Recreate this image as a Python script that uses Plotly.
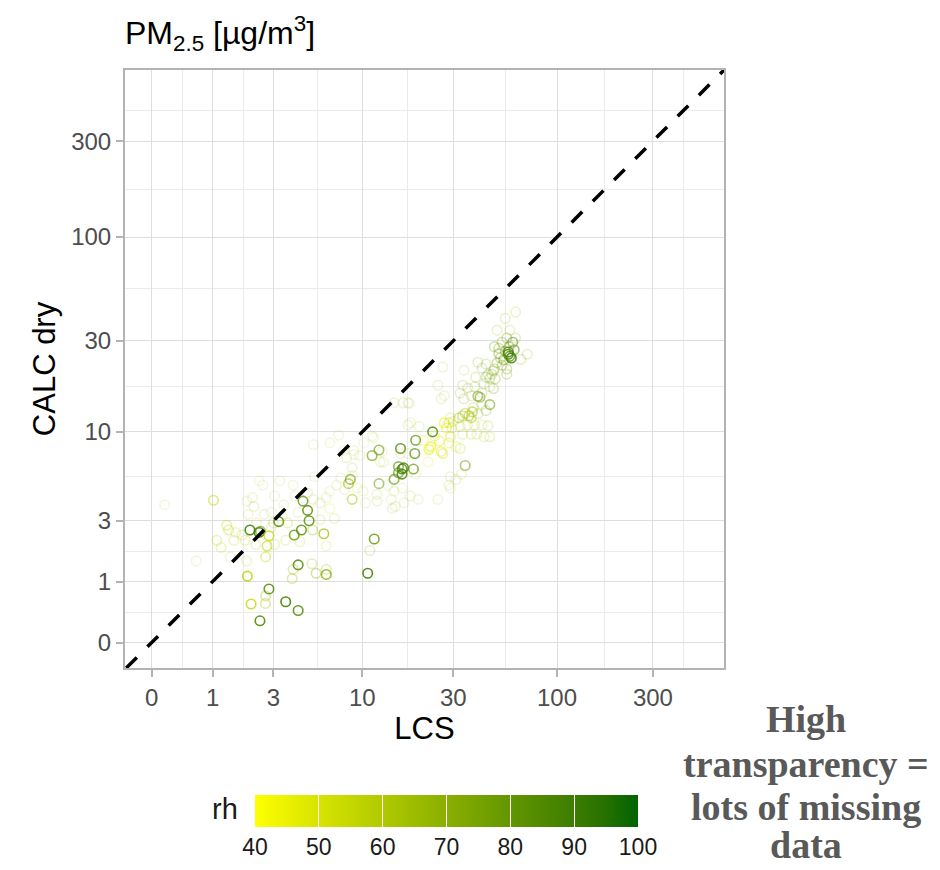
import numpy as np
import plotly.graph_objects as go

# ---------------- data ----------------
tick_values = [0, 1, 3, 10, 30, 100, 300]
tick_labels = ["0", "1", "3", "10", "30", "100", "300"]
rh_ticks = [40, 50, 60, 70, 80, 90, 100]

# LCS (x), CALC dry (y), relative humidity, data coverage (0..1 -> opacity)
lcs = [0.16, 0.66, 1.02, 1.35, 1.4, 1.1, 1.2, 1.55, 1.9, 1.45, 1.95, 2.15, 2.4, 2.55, 2.06, 2.4, 2.45,
       2.8, 2.72, 2.66, 2.27, 1.95, 1.97, 2.1, 2.43, 2.66, 2.65, 2.8, 3.6, 4.3, 4.3, 4.0, 3.95, 5.2,
       5.5, 6.3, 6.3, 10.7, 11.6, 11.0, 3.25, 3.0, 4.07, 4.5, 5.0, 4.9, 4.6, 5.25, 6.1, 3.6, 4.4,
       3.05, 6.3, 3.7, 3.05, 3.3, 4.0, 4.1, 5.3, 5.4, 4.9, 5.3, 5.8, 6.3, 6.6, 7.0, 5.8, 6.6, 7.2,
       7.6, 8.0, 8.8, 8.4, 8.6, 8.8, 9.4, 8.2, 8.8, 7.9, 9.0, 10.1, 10.4, 12.0, 12.3, 12.3, 11.3,
       11.5, 9.7, 9.0, 12.5, 14.8, 15.6, 15.6, 14.5, 15.0, 14.8, 12.0, 11.3, 10.2,
       1.6, 1.8, 2.2, 2.6, 2.0, 2.3, 2.9, 3.5, 3.4, 4.3, 2.9,
       16.3, 16.6, 16.3, 16.0, 18.7, 19.0, 17.5, 16.0, 12.8, 13.0, 14.8, 16.5, 17.5, 17.5, 18.0,
       16.3, 14.8, 19.2, 13.7, 14.3, 16.7, 19.8, 19.2, 23.5, 23.0, 22.5, 26.0, 26.5, 22.3, 21.0,
       20.0, 18.0, 25.0, 26.5, 26.0, 27.0, 34.5, 33.0, 29.0, 31.0, 28.5, 29.0, 25.0, 27.0, 27.7,
       28.5, 29.5, 29.0, 28.5, 31.0, 32.5, 33.5, 37.0, 39.5, 43.0, 46.0, 29.0, 30.0, 32.5, 35.5,
       38.5, 42.0, 45.0, 36.0, 37.5, 34.5, 33.5, 32.0, 37.0, 46.0, 40.0, 41.0, 34.0, 46.0, 42.0,
       38.5, 35.5, 33.5, 32.5, 34.0, 37.0, 42.0, 56.0, 49.0, 44.0, 40.0, 42.0, 45.0, 48.0, 62.0,
       50.0, 55.0, 58.0, 62.0, 60.0, 57.0, 59.0, 57.0, 58.0, 56.0, 53.0, 51.0, 48.5, 71.0, 66.0,
       52.0, 50.0, 53.0, 56.0, 48.5, 47.0, 46.0, 44.0, 55.0, 54.0, 51.0, 57.5, 61.0, 38.0, 40.0,
       44.0, 48.0, 43.0, 39.0, 24.0, 25.5, 6.6, 7.4, 17.8]
calc = [3.8, 1.53, 4.05, 2.8, 2.6, 2.2, 1.95, 2.2, 2.2, 1.65, 4.0, 4.2, 5.3, 5.0, 2.6, 2.5, 2.55,
        2.37, 2.0, 1.65, 2.05, 1.53, 1.13, 0.55, 0.28, 0.7, 0.56, 0.84, 0.59, 0.44, 1.42, 1.3, 1.07, 1.45,
        1.2, 1.17, 1.3, 1.2, 2.25, 1.85, 2.96, 2.9, 2.4, 2.6, 3.0, 3.5, 4.0, 2.6, 2.45, 2.2, 2.15,
        2.05, 2.0, 2.9, 4.3, 5.3, 5.0, 4.3, 8.5, 5.6, 4.5, 4.1, 3.9, 4.2, 3.6, 3.1, 3.05, 4.6, 5.0,
        5.5, 4.7, 5.7, 5.1, 5.4, 4.1, 4.8, 7.2, 6.3, 7.9, 7.9, 4.6, 3.9, 4.0, 5.1, 7.95, 7.4,
        9.3, 7.4, 7.5, 6.8, 5.4, 5.9, 6.4, 3.6, 3.7, 4.6, 4.4, 9.5, 8.7,
        2.5, 2.4, 3.7, 3.3, 3.3, 2.9, 3.4, 3.8, 3.2, 3.4, 2.7,
        6.2, 6.3, 5.8, 8.1, 6.2, 7.6, 7.6, 7.6, 7.8, 6.8, 14.3, 14.3, 14.3, 10.9, 4.3,
        4.8, 5.5, 5.8, 5.0, 4.1, 3.9, 4.1, 9.0, 10.0, 8.3, 8.0, 7.8, 7.6, 6.8, 9.0,
        10.7, 11.2, 17.7, 22.0, 15.0, 15.6, 6.5, 5.8, 5.6, 5.4, 5.0, 4.8, 4.1, 11.2, 10.5,
        11.2, 10.5, 9.4, 8.7, 8.3, 8.1, 9.7, 9.7, 9.7, 9.4, 9.4, 11.9, 11.4, 10.7, 10.9,
        10.9, 10.9, 10.8, 12.2, 12.8, 12.6, 12.2, 11.9, 11.9, 14.0, 15.5, 15.3, 21.2, 17.4, 16.1,
        17.4, 17.1, 17.7, 16.1, 15.0, 15.6, 14.0, 20.2, 19.1, 19.5, 23.3, 21.7, 20.2, 21.0, 42.0,
        34.0, 39.0, 34.0, 31.0, 29.5, 26.3, 24.5, 25.6, 25.0, 31.0, 29.5, 27.5, 28.0, 25.6, 24.1,
        24.5, 23.1, 22.5, 21.5, 21.5, 20.2, 19.2, 22.8, 26.5, 24.0, 25.8, 28.0, 27.0, 13.5, 12.5,
        13.0, 17.0, 18.0, 19.5, 9.5, 8.9, 8.7, 9.6, 14.2]
rh = [60, 60, 55, 55, 55, 55, 55, 55, 55, 60, 60, 60, 60, 65, 90, 90, 85,
      55, 55, 55, 60, 60, 58, 55, 85, 65, 65, 85, 88, 85, 85, 65, 65, 65,
      70, 72, 65, 88, 80, 70, 85, 70, 80, 85, 85, 85, 85, 65, 65, 60, 60,
      60, 60, 55, 65, 60, 65, 65, 65, 65, 65, 65, 65, 60, 50, 65, 65, 65, 65,
      65, 65, 65, 65, 80, 62, 50, 65, 65, 65, 65, 65, 65, 65, 80, 80, 80,
      65, 65, 65, 65, 85, 85, 85, 65, 65, 65, 65, 65, 65,
      60, 60, 65, 65, 60, 60, 65, 65, 65, 65, 60,
      88, 88, 88, 85, 80, 85, 65, 65, 60, 60, 65, 65, 65, 65, 65,
      65, 65, 65, 65, 65, 65, 65, 85, 88, 45, 45, 50, 50, 50, 50,
      60, 60, 65, 65, 65, 65, 80, 65, 65, 65, 60, 60, 60, 45, 45,
      50, 55, 55, 50, 50, 55, 60, 60, 60, 60, 60, 60, 60, 60, 60,
      60, 60, 65, 62, 62, 62, 62, 62, 62, 80, 80, 80, 70, 70, 70,
      70, 70, 70, 70, 70, 70, 70, 75, 75, 75, 75, 75, 75, 75, 65,
      65, 65, 65, 70, 85, 90, 90, 90, 88, 75, 75, 75, 75, 70, 70,
      75, 75, 75, 75, 75, 75, 75, 75, 80, 80, 80, 80, 85, 70, 70,
      75, 75, 75, 70, 50, 45, 65, 65, 65]
coverage = [0.15, 0.15, 0.5, 0.35, 0.35, 0.3, 0.25, 0.25, 0.25, 0.15, 0.15, 0.15, 0.12, 0.12, 0.9, 0.9, 0.6,
            0.7, 0.6, 0.4, 0.2, 0.2, 0.8, 0.8, 0.9, 0.35, 0.35, 0.85, 0.9, 0.85, 0.85, 0.3, 0.3, 0.25,
            0.35, 0.8, 0.25, 0.9, 0.8, 0.2, 0.85, 0.2, 0.8, 0.8, 0.8, 0.8, 0.7, 0.35, 0.7, 0.2, 0.2,
            0.2, 0.15, 0.3, 0.12, 0.15, 0.12, 0.12, 0.12, 0.12, 0.15, 0.15, 0.15, 0.15, 0.2, 0.15, 0.15, 0.12, 0.12,
            0.12, 0.12, 0.12, 0.6, 0.6, 0.5, 0.2, 0.15, 0.15, 0.12, 0.12, 0.12, 0.12, 0.15, 0.5, 0.6, 0.6,
            0.12, 0.12, 0.12, 0.15, 0.6, 0.6, 0.6, 0.15, 0.15, 0.15, 0.15, 0.12, 0.12,
            0.2, 0.2, 0.15, 0.15, 0.15, 0.2, 0.12, 0.12, 0.12, 0.12, 0.2,
            0.8, 0.8, 0.8, 0.8, 0.7, 0.7, 0.15, 0.15, 0.15, 0.15, 0.15, 0.15, 0.15, 0.15, 0.15,
            0.12, 0.12, 0.12, 0.12, 0.12, 0.12, 0.12, 0.7, 0.8, 0.6, 0.6, 0.4, 0.4, 0.2, 0.25,
            0.15, 0.15, 0.15, 0.15, 0.15, 0.15, 0.5, 0.15, 0.15, 0.15, 0.15, 0.15, 0.15, 0.5, 0.5,
            0.4, 0.3, 0.3, 0.3, 0.25, 0.25, 0.2, 0.2, 0.2, 0.2, 0.2, 0.2, 0.2, 0.2, 0.2,
            0.2, 0.2, 0.2, 0.5, 0.5, 0.4, 0.4, 0.4, 0.4, 0.5, 0.5, 0.45, 0.15, 0.2, 0.2,
            0.2, 0.2, 0.2, 0.2, 0.2, 0.2, 0.2, 0.25, 0.25, 0.25, 0.2, 0.2, 0.2, 0.25, 0.2,
            0.2, 0.2, 0.2, 0.2, 0.5, 0.8, 0.85, 0.8, 0.7, 0.3, 0.3, 0.3, 0.3, 0.2, 0.2,
            0.3, 0.3, 0.3, 0.3, 0.25, 0.25, 0.25, 0.2, 0.4, 0.4, 0.35, 0.4, 0.5, 0.2, 0.2,
            0.25, 0.25, 0.2, 0.2, 0.3, 0.4, 0.12, 0.12, 0.12]


# ---------------- helpers ----------------
def tr(v):
    """log10(x + 1) axis transform"""
    return np.log10(np.asarray(v, dtype=float) + 1.0)


_M = np.array([[0.4124, 0.3576, 0.1805], [0.2126, 0.7152, 0.0722], [0.0193, 0.1192, 0.9505]])
_WP = np.array([0.95047, 1.0, 1.08883])


def _srgb_to_lab(rgb):
    c = np.asarray(rgb, float) / 255.0
    c = np.where(c <= 0.04045, c / 12.92, ((c + 0.055) / 1.055) ** 2.4)
    xyz = _M @ c / _WP
    d = 6 / 29
    f = np.where(xyz > d ** 3, np.cbrt(xyz), xyz / (3 * d * d) + 4 / 29)
    return np.array([116 * f[1] - 16, 500 * (f[0] - f[1]), 200 * (f[1] - f[2])])


def _lab_to_srgb(lab):
    L_, a, b = lab
    fy = (L_ + 16) / 116
    f = np.array([fy + a / 500, fy, fy - b / 200])
    d = 6 / 29
    xyz = np.where(f > d, f ** 3, 3 * d * d * (f - 4 / 29)) * _WP
    c = np.clip(np.linalg.inv(_M) @ xyz, 0, 1)
    c = np.where(c <= 0.0031308, 12.92 * c, 1.055 * c ** (1 / 2.4) - 0.055)
    return np.clip(np.round(c * 255), 0, 255).astype(int)


low = _srgb_to_lab([255, 255, 0])      # yellow
high = _srgb_to_lab([0, 100, 0])       # darkgreen
colorscale = []
for t in np.linspace(0, 1, 13):
    r, g, b = _lab_to_srgb(low + (high - low) * t)
    colorscale.append([float(t), f"rgb({r},{g},{b})"])

# ---------------- figure ----------------
L, R, T, B = 125, 216, 70, 202
W, H = 940, 870
pw, ph = W - L - R, H - T - B
SANS = "Liberation Sans, Arial, sans-serif"

xr = [-0.132, 2.830]
yr = [-0.126, 2.830]

major = tr(tick_values)
minor = list((major[:-1] + major[1:]) / 2) + [major[-1] + (major[1] - major[0]) / 2]

fig = go.Figure()
fig.add_trace(go.Scatter(
    x=tr(lcs), y=tr(calc), mode="markers",
    marker=dict(symbol="circle-open", size=9.5, color=rh, colorscale=colorscale,
                cmin=40, cmax=100, opacity=coverage, line=dict(width=1.6),
                showscale=True,
                colorbar=dict(orientation="h", x=(446.5 - L) / pw, xanchor="center",
                              y=(T + ph - 795) / ph, yanchor="top",
                              lenmode="pixels", len=383, thickness=32,
                              outlinewidth=0, tickvals=rh_ticks,
                              ticks="inside", ticklen=32, tickcolor="white", tickwidth=1,
                              tickfont=dict(size=23, color="#1a1a1a", family=SANS),
                              xpad=0, ypad=0)),
    showlegend=False, hoverinfo="skip"))

d0 = max(xr[0], yr[0])
d1 = min(xr[1], yr[1])
fig.add_shape(type="line", xref="x", yref="y", x0=d0, y0=d0, x1=d1, y1=d1,
              line=dict(color="black", width=3.5, dash="15px,15px"))

axis_common = dict(
    tickvals=major, ticktext=tick_labels, showgrid=True, gridcolor="#DEDEDE", gridwidth=1.4,
    minor=dict(tickvals=minor, showgrid=True, gridcolor="#EBEBEB", gridwidth=0.8, ticks=""),
    zeroline=False, showline=True, linecolor="#B3B3B3", linewidth=2, mirror=True,
    ticks="outside", ticklen=7, tickwidth=1.5, tickcolor="#B3B3B3",
    tickfont=dict(size=24, color="#4D4D4D", family=SANS),
)
fig.update_xaxes(range=xr, title=dict(text="LCS", standoff=8,
                 font=dict(size=31, color="black", family=SANS)), **axis_common)
fig.update_yaxes(range=yr, title=dict(text="CALC dry", standoff=6,
                 font=dict(size=31, color="black", family=SANS)), **axis_common)

annos = [
    dict(text="rh", x=(240 - L) / pw, y=(T + ph - 809) / ph, xanchor="right", yanchor="middle",
         font=dict(size=29, color="#1a1a1a", family=SANS)),
]
note_lines = ["High", "transparency =", "lots of missing", "data"]
note_y = [719, 764, 807, 845]
for txt, py in zip(note_lines, note_y):
    annos.append(dict(text=f"<b>{txt}</b>", x=(806 - L) / pw, y=(T + ph - py) / ph,
                      xanchor="center", yanchor="middle",
                      font=dict(size=38, color="#595959",
                                family="Liberation Serif, Times New Roman, serif")))
for a in annos:
    a.update(xref="paper", yref="paper", showarrow=False)

fig.update_layout(
    width=W, height=H, margin=dict(l=L, r=R, t=T, b=B, autoexpand=False),
    paper_bgcolor="white", plot_bgcolor="white",
    title=dict(text="PM<sub>2.5</sub> [µg/m<sup>3</sup>]", x=L / W, xanchor="left",
               y=1 - 33 / H, yanchor="middle",
               font=dict(size=32, color="black", family=SANS)),
    annotations=annos,
    font=dict(family=SANS),
)

fig.write_html("out.html")
